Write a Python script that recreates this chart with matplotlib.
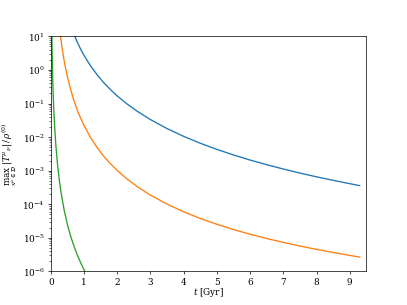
import numpy as np
import matplotlib.pyplot as plt

plt.rcParams['font.family'] = 'serif'
plt.rcParams['mathtext.fontset'] = 'dejavuserif'

# valores (t em Gyr, max |T| / rho)
t_azul = [0.7, 0.8, 0.9, 1.0, 1.2, 1.4, 1.6, 1.8, 2.0, 2.3, 2.6, 3.0, 3.5, 4.0,
          4.5, 5.0, 5.5, 6.0, 6.5, 7.0, 7.5, 8.0, 8.5, 9.0, 9.3]
y_azul = [11.19, 6.56, 4.10, 2.687, 1.296, 0.700, 0.410, 0.256, 0.168, 0.0960,
          0.0588, 0.0332, 0.0179, 0.0105, 0.00655, 0.00430, 0.00294, 0.00207,
          0.00151, 0.00112, 8.49e-4, 6.56e-4, 5.15e-4, 4.10e-4, 3.59e-4]

t_laranja = [0.27, 0.3, 0.35, 0.4, 0.45, 0.5, 0.6, 0.7, 0.8, 0.9, 1.0, 1.2, 1.4,
             1.6, 1.8, 2.0, 2.3, 2.6, 3.0, 3.5, 4.0, 4.5, 5.0, 5.5, 6.0, 6.5,
             7.0, 7.5, 8.0, 8.5, 9.0, 9.3]
y_laranja = [14.5, 8.33, 3.73, 1.88, 1.035, 0.610, 0.248, 0.1175, 0.0621, 0.0357,
             0.0219, 0.00950, 0.00476, 0.00264, 0.00158, 0.001008, 5.59e-4,
             3.35e-4, 1.87e-4, 1.008e-4, 5.97e-5, 3.78e-5, 2.53e-5, 1.77e-5,
             1.28e-5, 9.56e-6, 7.31e-6, 5.71e-6, 4.54e-6, 3.67e-6, 3.00e-6, 2.68e-6]

t_verde = [0.028, 0.03, 0.035, 0.04, 0.05, 0.06, 0.07, 0.08, 0.1, 0.12, 0.15,
           0.2, 0.25, 0.3, 0.4, 0.5, 0.6, 0.7, 0.8, 0.9, 1.0, 1.05]
y_verde = [13.8, 9.98, 4.83, 2.58, 0.911, 0.390, 0.191, 0.1027, 0.0367, 0.01586,
           0.00571, 0.001536, 5.57e-4, 2.44e-4, 6.67e-5, 2.45e-5, 1.085e-5,
           5.46e-6, 3.01e-6, 1.79e-6, 1.12e-6, 9.0e-7]

fig, ax = plt.subplots(figsize=(6.4, 4.8), dpi=63.6)

ax.plot(t_azul, y_azul, color='C0')
ax.plot(t_laranja, y_laranja, color='C1')
ax.plot(t_verde, y_verde, color='C2')

ax.set_yscale('log')
ax.set_xlim(0, 9.5)
ax.set_ylim(1e-6, 1e1)
ax.set_xticks(range(10))
ax.set_xlabel(r'$t$ [Gyr]', labelpad=-1.5)
ax.set_ylabel(r'$\max_{x^\mu \in \mathcal{D}}\, |T^\mu{}_\nu| \,/\, \rho^{(0)}$')

plt.savefig('out.png', dpi=63.6)
